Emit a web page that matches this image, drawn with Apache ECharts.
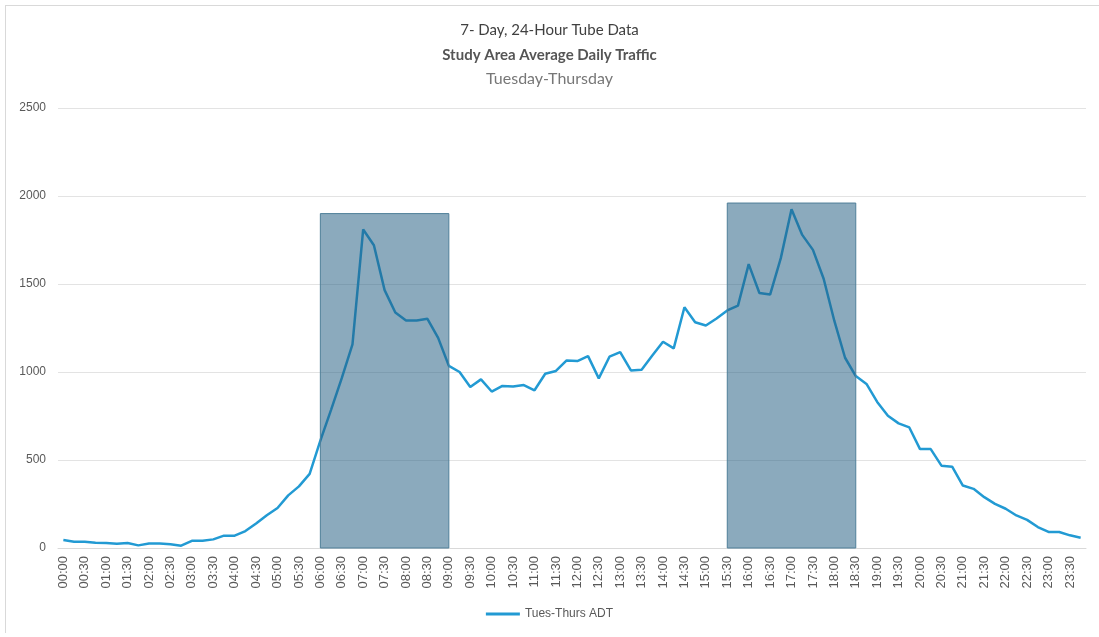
<!DOCTYPE html>
<html>
<head>
<meta charset="utf-8">
<title>Tube Data</title>
<script src="https://cdn.jsdelivr.net/npm/echarts@6/dist/echarts.min.js"></script>
<style>
    body { margin: 0; background: #fff; }
    #main { position: absolute; left: 0; top: 0; width: 1099px; height: 637px; }
    #frame { position: absolute; left: 5px; top: 5px; width: 1100px; height: 627px;
             border-left: 1px solid #d9d9d9; border-top: 1px solid #d9d9d9; pointer-events: none; }
</style>
</head>
<body>
<div id="main"></div>
<div id="frame"></div>
<script>
// 15 minute intervals, 00:00 - 23:45
var times = [];
for (var h = 0; h < 24; h++) {
    for (var m = 0; m < 60; m += 15) {
        times.push((h < 10 ? '0' : '') + h + ':' + (m < 10 ? '0' : '') + m);
    }
}

// Tues-Thurs ADT
var adt = [
    45, 36, 36, 30, 28, 24, 28, 15, 26, 26, 21, 13,
    41, 41, 49, 70, 70, 96, 139, 186, 227, 299, 350, 421,
    610, 785, 965, 1157, 1810, 1720, 1465, 1338, 1293, 1293, 1302, 1194,
    1035, 1000, 915, 958, 889, 921, 917, 926, 896, 990, 1006, 1066,
    1062, 1090, 964, 1087, 1113, 1009, 1013, 1094, 1172, 1134, 1368, 1283,
    1264, 1304, 1350, 1377, 1613, 1449, 1440, 1647, 1925, 1779, 1694, 1530,
    1290, 1081, 977, 932, 830, 751, 708, 685, 562, 562, 468, 462,
    355, 336, 289, 251, 223, 185, 160, 119, 91, 91, 72, 58
];

// peak hour boxes
var peakStart = ['06:00', '15:30'];
var peakEnd = ['09:00', '18:30'];
var peakTop = [1900, 1960];

var yTicks = [0, 500, 1000, 1500, 2000, 2500];

var areas = [];
for (var i = 0; i < peakStart.length; i++) {
    areas.push([{xAxis: peakStart[i], yAxis: 0}, {xAxis: peakEnd[i], yAxis: peakTop[i]}]);
}

var myChart = echarts.init(document.getElementById('main'));
myChart.setOption({
    animation: false,
    title: [
        {
            text: '7- Day, 24-Hour Tube Data',
            left: 'center', top: 18,
            textStyle: {fontFamily: 'Lato', fontSize: 15, fontWeight: 'normal', color: '#404040'}
        },
        {
            text: 'Study Area Average Daily Traffic',
            left: 'center', top: 43,
            textStyle: {fontFamily: 'Lato', fontSize: 15, fontWeight: 'bold', color: '#555'}
        },
        {
            text: 'Tuesday-Thursday',
            left: 'center', top: 66,
            textStyle: {fontFamily: 'Lato', fontSize: 16, fontWeight: 'normal', color: '#777'}
        }
    ],
    legend: {
        data: ['Tues-Thurs ADT'],
        bottom: 12,
        left: 'center',
        itemWidth: 34,
        itemHeight: 3,
        icon: 'rect',
        textStyle: {fontFamily: 'Liberation Sans', fontSize: 12, color: '#595959'}
    },
    grid: {left: 58, right: 13, top: 108, bottom: 89},
    xAxis: {
        type: 'category',
        data: times,
        boundaryGap: true,
        axisLine: {lineStyle: {color: '#d9d9d9'}},
        axisTick: {show: false},
        axisLabel: {
            interval: 1,
            rotate: 90,
            color: '#595959',
            fontFamily: 'Liberation Sans',
            fontSize: 13,
            margin: 8
        }
    },
    yAxis: {
        type: 'value',
        min: yTicks[0],
        max: yTicks[yTicks.length - 1],
        interval: 500,
        axisLine: {show: false},
        axisTick: {show: false},
        splitLine: {lineStyle: {color: '#e3e3e3'}},
        axisLabel: {
            color: '#595959', fontFamily: 'Liberation Sans', fontSize: 12, margin: 12,
            formatter: function (v) { return String(v); }
        }
    },
    series: [
        {
            name: 'Tues-Thurs ADT',
            type: 'line',
            data: adt,
            symbol: 'none',
            z: 2,
            lineStyle: {color: '#229ad3', width: 2.5},
            itemStyle: {color: '#229ad3'}
        },
        {
            name: 'peaks',
            type: 'line',
            data: [],
            z: 5,
            markArea: {
                silent: true,
                z: 5,
                itemStyle: {
                    color: 'rgba(35, 95, 130, 0.53)',
                    borderColor: '#4f7f99',
                    borderWidth: 1
                },
                data: areas
            }
        }
    ]
});
</script>
</body>
</html>
